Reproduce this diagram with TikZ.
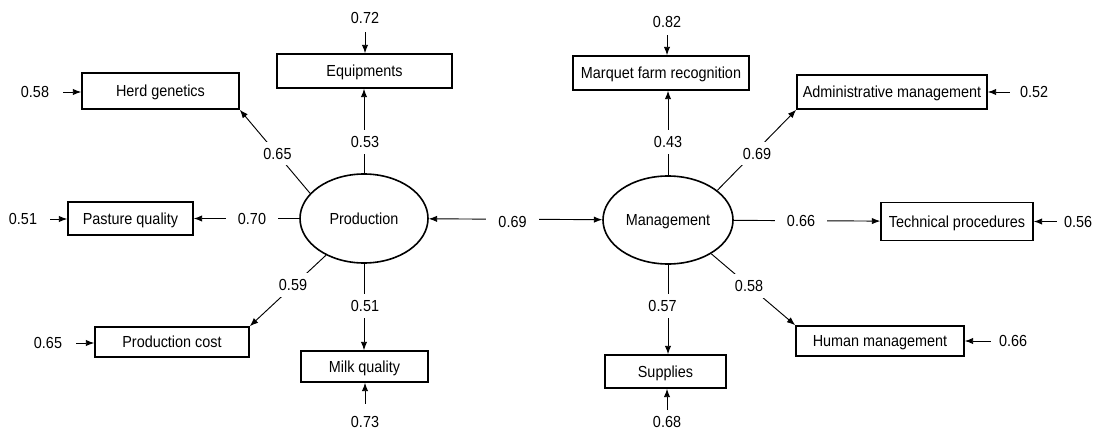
\documentclass[tikz,border=0pt]{standalone}
\usepackage{fontspec}
\setmainfont{Liberation Sans}[FakeStretch=0.9]
\usetikzlibrary{arrows.meta,shapes.geometric}
\begin{document}
\begin{tikzpicture}[x=0.75pt,y=-0.75pt,
  txt/.style={font=\fontsize{12}{14.4}\selectfont},
  box/.style={txt,draw,line width=1.2pt,rectangle,inner sep=0pt,text height=8.6pt,text depth=0pt},
  lat/.style={txt,draw,line width=1.2pt,ellipse,inner sep=0pt,text height=8.6pt,text depth=0pt},
  tip/.tip={Latex[length=6.3pt,width=4.8pt]},
  conn/.style={line width=0.7pt,-tip},
  lab/.style={txt,fill=white,inner xsep=9pt,inner ysep=4.5pt},
  errl/.style={txt,inner sep=0pt}]
\useasboundingbox (0,0) rectangle (1095,431);

% latent variables
\node[lat,minimum width=96pt,minimum height=66.75pt] (prod) at (364,218.5) {Production};
\node[lat,minimum width=97.5pt,minimum height=66pt] (mgmt) at (668,220) {Management};

% indicators
\node[box,minimum width=131.25pt,minimum height=25.5pt] (equip) at (364.5,71) {Equipments};
\node[box,minimum width=117.75pt,minimum height=27pt] (herd) at (160.5,91) {Herd genetics};
\node[box,minimum width=93.75pt,minimum height=24.75pt] (past) at (130.5,218.5) {Pasture quality};
\node[box,minimum width=115.5pt,minimum height=22.5pt] (cost) at (172,342) {Production cost};
\node[box,minimum width=95.25pt,minimum height=23.25pt] (milk) at (364.5,366.5) {Milk quality};
\node[box,minimum width=132pt,minimum height=25.5pt] (marq) at (661,73) {Marquet farm recognition};
\node[box,minimum width=142.5pt,minimum height=25.5pt] (admin) at (892,92) {Administrative management};
\node[box,minimum width=114pt,minimum height=28.5pt] (tech) at (957,221.5) {Technical procedures};
\node[box,minimum width=126pt,minimum height=22.5pt] (human) at (880,341) {Human management};
\node[box,minimum width=90.75pt,minimum height=24.75pt] (supp) at (665.5,371.5) {Supplies};

% error terms
\node[errl] (e72) at (365,18) {0.72};
\node[errl] (e58) at (35,92) {0.58};
\node[errl] (e51) at (23,219) {0.51};
\node[errl] (e65) at (48,343) {0.65};
\node[errl] (e73) at (365,422) {0.73};
\node[errl] (e82) at (667,22) {0.82};
\node[errl] (e52) at (1034,92) {0.52};
\node[errl] (e56) at (1078,221.5) {0.56};
\node[errl] (e66) at (1013,341) {0.66};
\node[errl] (e68) at (667,422) {0.68};

\draw[conn,shorten <=6.4pt] (e72) -- (e72 |- equip.north);
\draw[conn,shorten <=10.5pt] (e58) -- (e58 -| herd.west);
\draw[conn,shorten <=9.8pt] (e51) -- (e51 -| past.west);
\draw[conn,shorten <=10.5pt] (e65) -- (e65 -| cost.west);
\draw[conn,shorten <=9.4pt] (e73) -- (e73 |- milk.south);
\draw[conn,shorten <=5.6pt] (e82) -- (e82 |- marq.north);
\draw[conn,shorten <=7.5pt] (e52) -- (e52 -| admin.east);
\draw[conn,shorten <=5.3pt] (e56) -- (e56 -| tech.east);
\draw[conn,shorten <=6pt] (e66) -- (e66 -| human.east);
\draw[conn,shorten <=4.9pt] (e68) -- (e68 |- supp.south);

% loadings
\draw[conn] (prod.north) -- (prod.north |- equip.south);
\draw[conn] (prod.155) -- (herd.south east);
\draw[conn] (prod) -- (past);
\draw[conn] (prod.224) -- (cost.north east);
\draw[conn] (prod.south) -- (prod.south |- milk.north);
\draw[line width=0.7pt,tip-tip] (prod) -- (mgmt);
\draw[conn] (mgmt.north) -- (mgmt.north |- marq.south);
\draw[conn] (mgmt.31) -- (admin.south west);
\draw[conn] (mgmt) -- (tech);
\draw[conn] (mgmt.322) -- (human.north west);
\draw[conn] (mgmt.south) -- (mgmt.south |- supp.north);

% loading labels
\node[lab] (l53) at (365,142) {0.53};
\node[lab] (l65) at (277.5,153.5) {0.65};
\node[lab] (l70) at (252,219) {0.70};
\node[lab] (l59) at (293,285) {0.59};
\node[lab] (l51) at (365,306) {0.51};
\node[lab] (l69) at (512.5,221.5) {0.69};
\node[lab] (l43) at (668,142) {0.43};
\node[lab] (l69b) at (757,153.5) {0.69};
\node[lab] (l66) at (801,221) {0.66};
\node[lab] (l58) at (749,286) {0.58};
\node[lab] (l57) at (662.5,306) {0.57};
\end{tikzpicture}
\end{document}
